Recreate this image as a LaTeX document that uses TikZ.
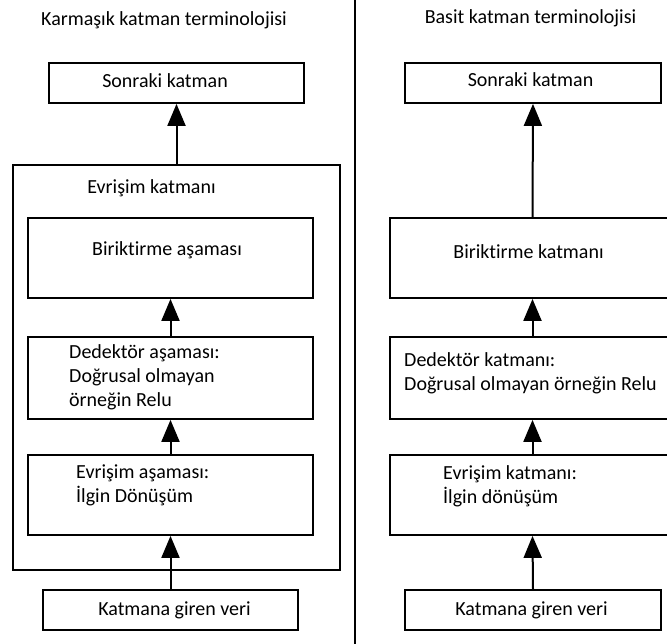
\documentclass[tikz,border=0pt]{standalone}
\usepackage{fontspec}
\setmainfont{Carlito}[Ligatures={NoCommon}]
\usetikzlibrary{arrows.meta}
\begin{document}
\begin{tikzpicture}[x=1pt,y=-1pt,
  kutu/.style={draw,line width=1.8pt,inner sep=0pt},
  yazi/.style={inner sep=0pt,font=\fontsize{20}{24}\selectfont},
  ok/.style={line width=2pt,-{Triangle[length=22pt,width=18pt]}}]
\useasboundingbox (0,0) rectangle (667,644);
\clip (0,0) rectangle (667,644);
\draw (164,20) node[yazi] (solBaslik) {Karmaşık katman terminolojisi};
\draw (176.5,83) node[kutu,minimum width=255pt,minimum height=40pt] (solSonraki) {};
\draw (165,81) node[yazi] (solSonrakiY) {Sonraki katman};
\draw (176.5,367.5) node[kutu,minimum width=327pt,minimum height=405pt] (solDis) {};
\draw (151.5,188) node[yazi] (solDisY) {Evrişim katmanı};
\draw (170.5,258) node[kutu,minimum width=285pt,minimum height=80pt] (solBir) {};
\draw (167,250) node[yazi] (solBirY) {Biriktirme aşaması};
\draw (170.5,378) node[kutu,minimum width=285pt,minimum height=82pt] (solDed) {};
\draw (69,377) node[yazi,anchor=west,align=left] (solDedY) {Dedektör aşaması:\\Doğrusal olmayan\\örneğin Relu};
\draw (170.5,495) node[kutu,minimum width=285pt,minimum height=80pt] (solEvr) {};
\draw (76,485.5) node[yazi,anchor=west,align=left] (solEvrY) {Evrişim aşaması:\\İlgin Dönüşüm};
\draw (170.5,610) node[kutu,minimum width=255pt,minimum height=40pt] (solGiris) {};
\draw (174.5,610) node[yazi] (solGirisY) {Katmana giren veri};
\draw[ok] (solDis.north) -- (solSonraki.south);
\draw[ok] (solDed.north) -- (solBir.south);
\draw[ok] (solEvr.north) -- (solDed.south);
\draw[ok] (solGiris.north) -- (solEvr.south);
\coordinate (ayracUst) at (355,0);
\coordinate (ayracAlt) at (355,644);
\draw[line width=1.8pt] (ayracUst) -- (ayracAlt);
\draw (530.5,18) node[yazi] (sagBaslik) {Basit katman terminolojisi};
\draw (533,83) node[kutu,minimum width=256pt,minimum height=40pt] (sagSonraki) {};
\draw (530.5,80) node[yazi] (sagSonrakiY) {Sonraki katman};
\draw (532.5,258) node[kutu,minimum width=285pt,minimum height=80pt] (sagBir) {};
\draw (528.5,252) node[yazi] (sagBirY) {Biriktirme katmanı};
\draw (532.5,378) node[kutu,minimum width=285pt,minimum height=82pt] (sagDed) {};
\draw (404,373.5) node[yazi,anchor=west,align=left] (sagDedY) {Dedektör katmanı:\\Doğrusal olmayan örneğin Relu};
\draw (532.5,495) node[kutu,minimum width=285pt,minimum height=80pt] (sagEvr) {};
\draw (443,486.5) node[yazi,anchor=west,align=left] (sagEvrY) {Evrişim katmanı:\\İlgin dönüşüm};
\draw (533,610) node[kutu,minimum width=256pt,minimum height=40pt] (sagGiris) {};
\draw (531.5,610) node[yazi] (sagGirisY) {Katmana giren veri};
\draw[ok] (sagBir.north) -- (sagSonraki.south);
\draw[ok] (sagDed.north) -- (sagBir.south);
\draw[ok] (sagEvr.north) -- (sagDed.south);
\draw[ok] (sagGiris.north) -- (sagEvr.south);
\end{tikzpicture}
\end{document}
